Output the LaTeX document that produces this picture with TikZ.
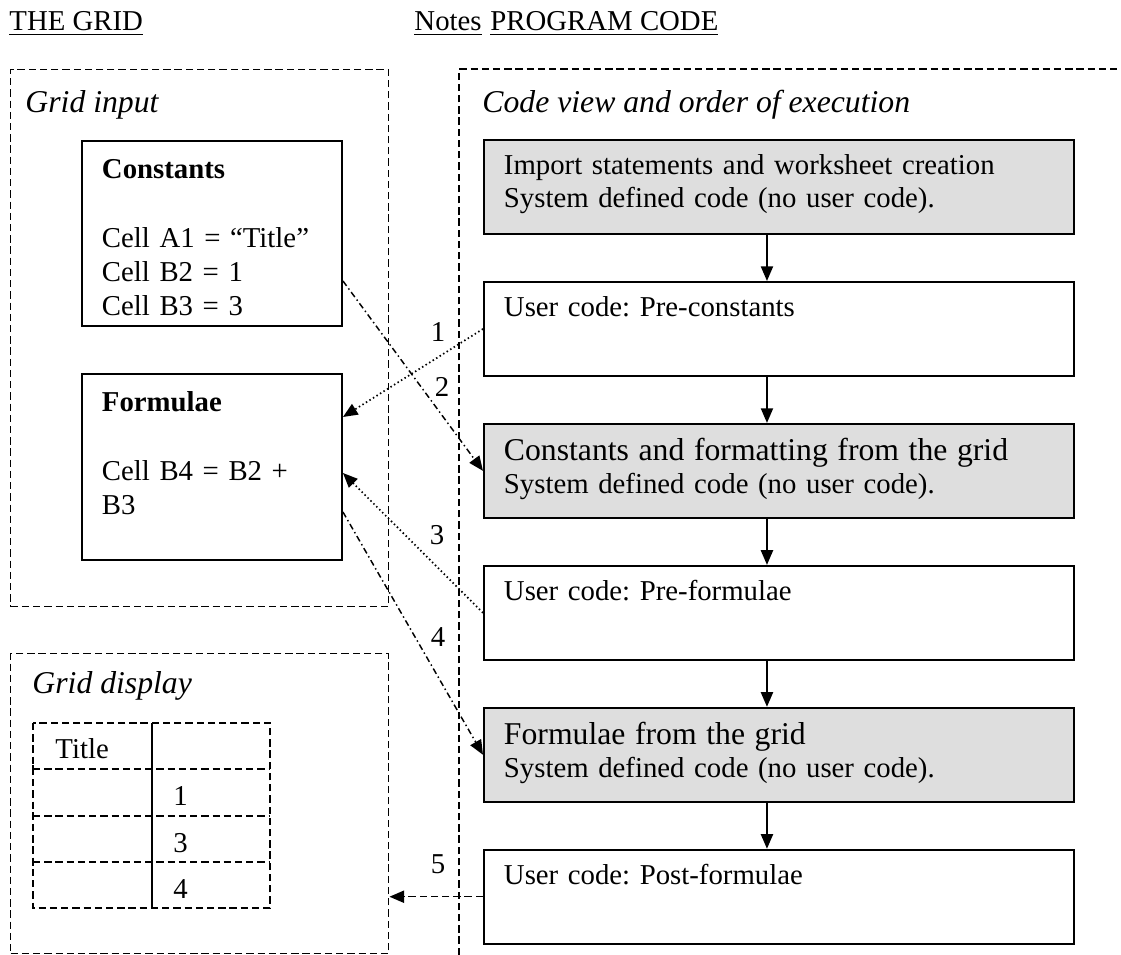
\documentclass[tikz,border=0pt]{standalone}
\usepackage{fontspec}
\setmainfont{Liberation Serif}
\usetikzlibrary{positioning,calc,arrows.meta}
\newlength\px
\setlength\px{0.41pt}
\tikzset{>={Triangle[length=6pt,width=5pt]}}
\frenchspacing

\begin{document}
\begin{tikzpicture}[x=0.41pt, y=-0.41pt, font=\fontsize{11.8pt}{14pt}\selectfont,
    lbl/.style={inner sep=0pt, anchor=base west},
    title/.style={lbl, font=\fontsize{13pt}{14pt}\selectfont\itshape},
    dashline/.style={line width=0.6pt, dash pattern=on 3pt off 1.6pt},
    dotline/.style={line width=0.7pt, dash pattern=on 0.6pt off 1.1pt},
    dashdot/.style={line width=0.6pt, dash pattern=on 2.5pt off 1.3pt on 0.6pt off 1.3pt},
    area/.style={draw, dashline, anchor=north west, inner sep=0pt},
    codebox/.style={draw, line width=0.8pt, anchor=north west, text width=550\px,
        inner xsep=20\px, inner ysep=0pt, text height=35\px, text depth=59\px, align=left,
        font=\fontsize{11.8pt}{13.5pt}\selectfont},
    sysbox/.style={codebox, fill=black!13},
    cellbox/.style={draw, line width=0.8pt, anchor=north west, text width=220\px,
        inner xsep=20\px, inner ysep=0pt, text height=38\px, text depth=#1, align=left}]
    \useasboundingbox (0,0) rectangle (1121,955);

    % Headings
    \node[lbl] (thegrid) at (9,31) {\underline{THE GRID}};
    \node[lbl] (notes) at (414,31) {\underline{Notes}};
    \node[lbl] (progcode) at (490,31) {\underline{PROGRAM CODE}};

    % Dashed areas
    \node[area, minimum width=378\px, minimum height=537\px] (inputarea) at (10,69) {};
    \node[area, minimum width=378\px, minimum height=300\px] (display) at (10,653) {};
    \draw[dashline] (459,955) -- (459,69) -- (1121,69);
    \node[title] (inputlbl) at (25,113) {Grid input};
    \node[title] (codelbl) at (482,113) {Code view and order of execution};
    \node[title] (displaylbl) at (32,693) {Grid display};

    % Grid input
    \node[cellbox=147\px] (constants) at (81,140)
        {\textbf{Constants}\\[14pt]Cell A1 = “Title”\\Cell B2 = 1\\Cell B3 = 3};
    \node[cellbox=148\px] (formulae) at (81,373)
        {\textbf{Formulae}\\[14pt]Cell B4 = B2 +\\B3};

    % Code view, in order of execution
    \node[sysbox] (import) at (483,139)
        {Import statements and worksheet creation\\System defined code (no user code).};
    \node[codebox, below=46\px of import] (precon) {User code: Pre-constants};
    \node[sysbox, text height=37\px, text depth=57\px, below=46\px of precon] (constgrid)
        {{\fontsize{13pt}{14pt}\selectfont Constants and formatting from the grid}\\System defined code (no user code).};
    \node[codebox, below=46\px of constgrid] (preform) {User code: Pre-formulae};
    \node[sysbox, text height=37\px, text depth=57\px, below=46\px of preform] (formgrid)
        {{\fontsize{13pt}{14pt}\selectfont Formulae from the grid}\\System defined code (no user code).};
    \node[codebox, below=46\px of formgrid] (postform) {User code: Post-formulae};

    \foreach \a/\b in {import/precon, precon/constgrid, constgrid/preform, preform/formgrid, formgrid/postform}
        \draw[->, line width=0.6pt] ([xshift=-12\px]\a.south) -- ([xshift=-12\px]\b.north);

    % Links between grid and code
    \draw[dotline, ->] (precon.west) -- ($(formulae.north east)+(0,44)$);
    \draw[dashdot, ->] ($(constants.south east)+(0,-46)$) -- (constgrid.west);
    \draw[dotline, ->] (preform.west) -- ($(formulae.east)+(0,6)$);
    \draw[dashdot, ->] ($(formulae.north east)+(0,139)$) -- (formgrid.west);
    \draw[dashline, ->] (postform.west) -- (postform.west -| display.east);

    \foreach \n/\x/\y in {1/438/332, 2/442/387, 3/437/535, 4/438/637, 5/438/864}
        \node (note\n) at (\x,\y) {\n};

    % Grid display table
    \draw[dashline] (33,723) rectangle (270,908);
    \foreach \y in {769,816,862} {
        \draw[dashline] (33,\y) -- (270,\y);
        \draw[line width=0.5pt] (33,\y-4) -- (33,\y+4);
    }
    \draw[line width=0.6pt] (152,723) -- (152,908);
    \node[lbl] (celltitle) at (55,758) {Title};
    \foreach \v/\y in {1/805, 3/852, 4/898}
        \node[lbl] (cell\v) at (173,\y) {\v};
\end{tikzpicture}
\end{document}
